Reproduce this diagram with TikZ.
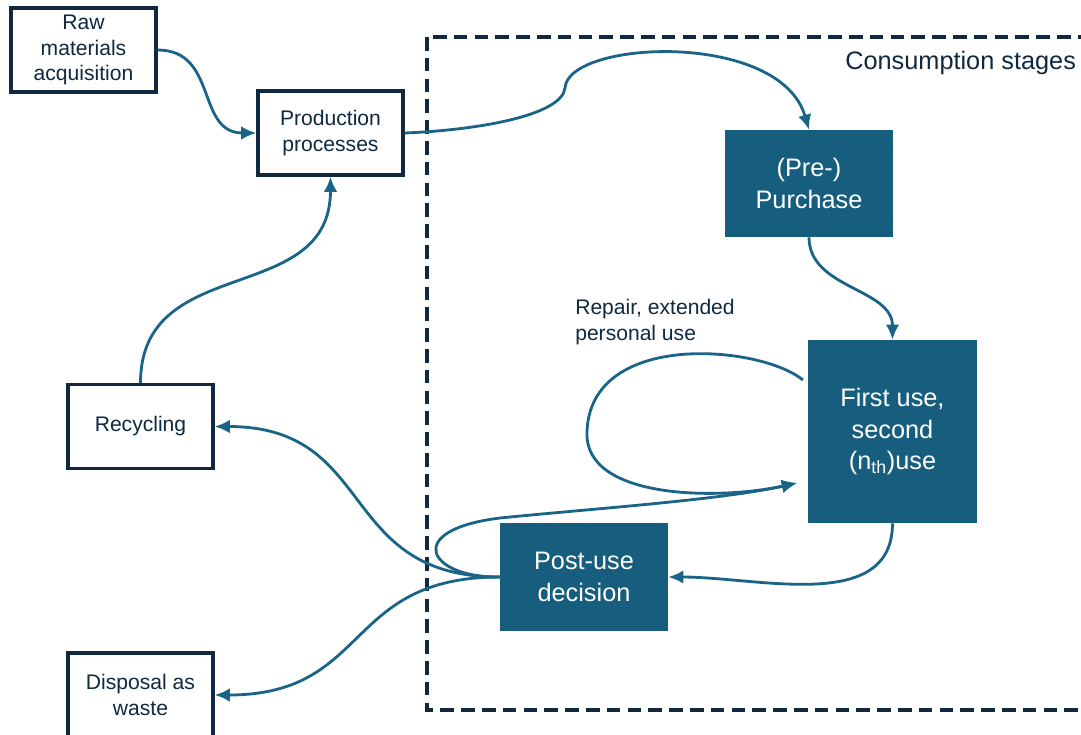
\documentclass[tikz,border=0pt]{standalone}
\usepackage{fontspec}
\setmainfont{Liberation Sans}
\usetikzlibrary{arrows.meta}
\definecolor{teal}{RGB}{23,94,126}
\definecolor{flowblue}{RGB}{26,101,135}
\definecolor{navy}{RGB}{16,40,64}
\begin{document}
\begin{tikzpicture}[x=0.25mm,y=-0.25mm,
  stagebox/.style={rectangle, draw=navy, line width=2.3pt, fill=white, text=navy,
    minimum width=36.25mm, minimum height=21mm, align=center,
    font=\fontsize{15}{18}\selectfont},
  usebox/.style={rectangle, fill=teal, text=white, align=center,
    font=\fontsize{18}{22.3}\selectfont},
  flow/.style={draw=flowblue, line width=2pt,
    -{Latex[length=3.8mm,width=3.4mm]}},
  label/.style={text=navy, align=left, inner sep=0pt}]
\useasboundingbox (0,0) rectangle (1081,734);
\draw [navy, line width=2.3pt, dash pattern=on 3.4mm off 1.8mm] (427,37) rectangle (1095,710);
\node [label, anchor=west, font=\fontsize{18}{22}\selectfont] (stages) at (845,63) {Consumption stages};
\node [stagebox] (raw) at (83.5,50) {Raw\\materials\\acquisition};
\node [stagebox] (prod) at (330.5,133) {Production\\processes};
\node [stagebox] (recyc) at (140.5,426.5) {Recycling};
\node [stagebox] (disp) at (140.5,695) {Disposal as\\waste};
\node [usebox, minimum width=42mm, minimum height=26.75mm] (purch) at (809,183.5) {(Pre-)\\Purchase};
\node [usebox, minimum width=42.25mm, minimum height=45.75mm] (first) at (892.5,431.5) {First use,\\second\\(n\textsubscript{th})use};
\node [usebox, minimum width=42mm, minimum height=27mm] (post) at (584,577) {Post-use\\decision};
\node [label, anchor=west, font=\fontsize{15}{18}\selectfont] (repair) at (575,322) {Repair, extended\\personal use};
\coordinate (loopstart) at (803,380);
\coordinate (loopend) at (797,483);
\draw [flow] (raw.east) to[out=0,in=180,looseness=1.2] (prod.west);
\draw [flow] (prod.east) .. controls (480,130) and (562,115) .. (565,88)
  .. controls (568,40) and (780,30) .. (purch.north);
\draw [flow] (purch.south) to[out=-90,in=90] (first.north);
\draw [flow] (first.south) to[out=-90,in=0] (post.east);
\draw [flow] (loopstart) .. controls (760,345) and (590,330) .. (587,432)
  .. controls (584,500) and (720,500) .. (loopend);
\draw [flow] (post.west) .. controls (428,578) and (402,530) .. (500,518)
  .. controls (600,508) and (720,500) .. (loopend);
\draw [flow] (post.west) to[out=180,in=0,looseness=1.3] (recyc.east);
\draw [flow] (post.west) to[out=180,in=0,looseness=1.3] (disp.east);
\draw [flow] (recyc.north) to[out=90,in=-90,looseness=1.2] (prod.south);
\end{tikzpicture}
\end{document}
